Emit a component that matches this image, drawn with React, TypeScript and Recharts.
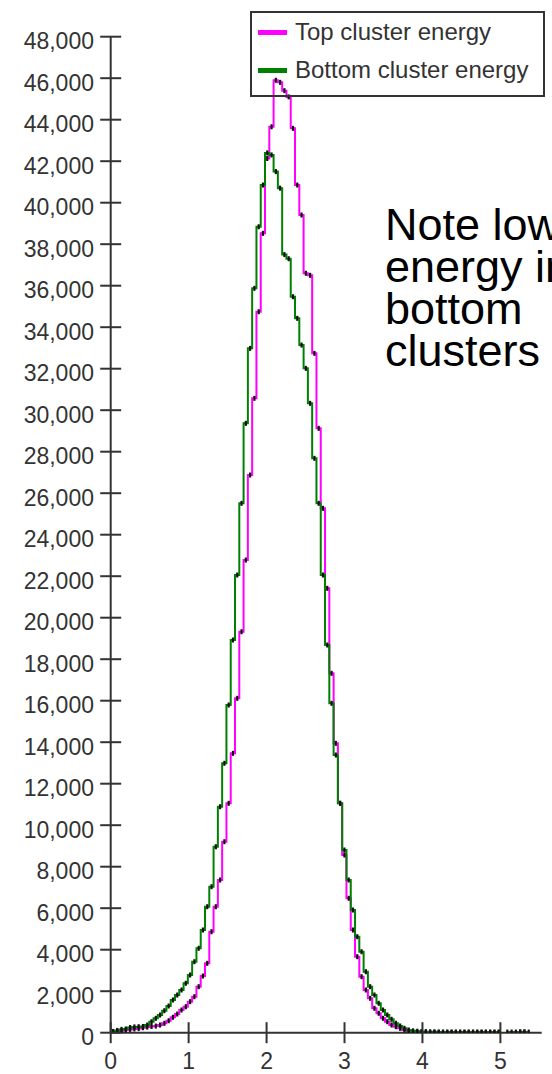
import { LineChart, Line, XAxis, YAxis, Legend } from 'recharts';

// histogram: 100 bins over [0, 5.5]
const binCount = 100;
const binWidth = 0.055;
const binCenters = Array.from({ length: binCount }, (_, i) => +(binWidth / 2 + i * binWidth).toFixed(4));

const topEnergy = [
  40, 70, 100, 130, 160, 180, 200, 240, 270, 300,
  320, 371, 453, 578, 742, 900, 1094, 1253, 1494, 1735,
  2217, 2732, 3344, 4867, 6072, 7359, 9204, 11055, 13464, 16114,
  19324, 22779, 26876, 30572, 34745, 38522, 42130, 43660, 45900, 45800,
  45400, 45100, 43583, 40851, 39406, 36600, 36500, 32740, 29126, 25271,
  21415, 17320, 13946, 11055, 8563, 6477, 4949, 3663, 2699, 2058,
  1658, 1176, 935, 694, 530, 371, 290, 210, 130, 80,
  50, 40, 30, 30, 20, 20, 20, 20, 20, 20,
  20, 20, 20, 20, 20, 20, 20, 20, 20, 20,
  20, null, null, null, null, 40, 40, null, null, null,
];

const bottomEnergy = [
  60, 110, 160, 180, 250, 280, 290, 300, 371, 530,
  694, 853, 1060, 1287, 1576, 1817, 2058, 2381, 2781, 3422,
  4067, 4949, 6072, 7036, 8963, 10891, 12982, 15792, 18924, 22057,
  25512, 29367, 32981, 35873, 38841, 40851, 42400, 42300, 41500, 40700,
  37500, 37300, 35468, 34427, 33140, 32017, 30331, 27680, 25512, 22057,
  18683, 15873, 13382, 11055, 8804, 7359, 5913, 4626, 3903, 2940,
  2217, 1817, 1417, 1094, 853, 646, 453, 323, 210, 130,
  90, 70, 60, 50, 40, 40, 30, 30, 30, 30,
  30, 30, 30, 30, 30, 30, 30, 30, 30, 30,
  30, null, 30, 30, 30, 30, 30, 30, null, null,
];

const xTicks = [0, 1, 2, 3, 4, 5];
const yTicks = [
  0, 2000, 4000, 6000, 8000, 10000, 12000, 14000, 16000, 18000, 20000, 22000, 24000,
  26000, 28000, 30000, 32000, 34000, 36000, 38000, 40000, 42000, 44000, 46000, 48000,
];

const seriesNames = ['Top cluster energy', 'Bottom cluster energy'];
const seriesColors = ['#ff00ff', '#008000'];
const noteLines = ['Note lower', 'energy in', 'bottom', 'clusters'];

const data = binCenters.map((x, i) => ({ x, top: topEnergy[i], bottom: bottomEnergy[i] }));

const FONT = '"Liberation Sans", Arial, sans-serif';
const AXIS_X = 110.7;
const AXIS_Y = 1032.7;
const INK = '#333';

const fmt = (v: number) => String(v).replace(/\B(?=(\d{3})+(?!\d))/g, ',');

const YTick = (props: any) => {
  const { y, payload } = props;
  return (
    <g>
      <line x1={AXIS_X - 10.5} x2={AXIS_X + 10.5} y1={y} y2={y} stroke={INK} strokeWidth={2} />
      <text x={94} y={y + 12.5} textAnchor="end" fontSize={23} fill={INK} fontFamily={FONT}>
        {fmt(payload.value)}
      </text>
    </g>
  );
};

const XTick = (props: any) => {
  const { x, payload } = props;
  return (
    <g>
      <line x1={x} x2={x} y1={AXIS_Y - 10.5} y2={AXIS_Y + 10.5} stroke={INK} strokeWidth={2} />
      <text x={x} y={1069} textAnchor="middle" fontSize={23} fill={INK} fontFamily={FONT}>
        {payload.value}
      </text>
    </g>
  );
};

const mark = (props: any) => {
  const { cx, cy, index, value } = props;
  if (cx == null || cy == null || value == null) return <g key={index} />;
  return <rect key={index} x={cx - 1} y={cy - 2.5} width={2.2} height={5} fill="#111" />;
};

const LegendBox = () => (
  <div
    style={{
      width: 295,
      height: 86,
      boxSizing: 'border-box',
      border: `2px solid ${INK}`,
      position: 'relative',
      fontFamily: FONT,
      fontSize: 24,
      color: INK,
    }}
  >
    {seriesNames.map((name, i) => (
      <div key={name} style={{ position: 'absolute', left: 6, top: 4 + i * 38, height: 30, display: 'flex', alignItems: 'center' }}>
        <span style={{ display: 'inline-block', width: 29, height: 5, background: seriesColors[i], marginRight: 8 }} />
        <span style={{ whiteSpace: 'nowrap' }}>{name}</span>
      </div>
    ))}
  </div>
);

export default function App() {
  return (
    <div style={{ position: 'absolute', left: 0, top: 0, width: 552, height: 1074, overflow: 'hidden', background: '#fff' }}>
      <LineChart width={552} height={1074} data={data} margin={{ top: 36.7, right: 10.3, bottom: 0, left: 0 }}>
        <XAxis
          type="number"
          dataKey="x"
          domain={[0, 5.53]}
          ticks={xTicks}
          height={41.3}
          axisLine={{ stroke: INK, strokeWidth: 2 }}
          tickLine={false}
          tick={<XTick />}
          allowDataOverflow
        />
        <YAxis
          type="number"
          domain={[0, 48000]}
          ticks={yTicks}
          width={110.7}
          axisLine={{ stroke: INK, strokeWidth: 2 }}
          tickLine={false}
          tick={<YTick />}
          interval={0}
          allowDataOverflow
        />
        <Legend
          layout="horizontal"
          verticalAlign="middle"
          align="center"
          wrapperStyle={{ top: 11, left: 250, width: 295, height: 86 }}
          content={() => <LegendBox />}
        />
        <Line
          dataKey="top"
          name={seriesNames[0]}
          type="step"
          stroke={seriesColors[0]}
          strokeWidth={2}
          dot={mark}
          activeDot={false}
          isAnimationActive={false}
        />
        <Line
          dataKey="bottom"
          name={seriesNames[1]}
          type="step"
          stroke={seriesColors[1]}
          strokeWidth={2}
          dot={mark}
          activeDot={false}
          isAnimationActive={false}
        />
      </LineChart>
      {noteLines.map((t, i) => (
        <div
          key={t}
          style={{
            position: 'absolute',
            left: 385,
            top: 204 + i * 42,
            height: 42,
            fontFamily: FONT,
            fontSize: 45,
            lineHeight: '42px',
            color: '#000',
            whiteSpace: 'nowrap',
          }}
        >
          {t}
        </div>
      ))}
    </div>
  );
}
